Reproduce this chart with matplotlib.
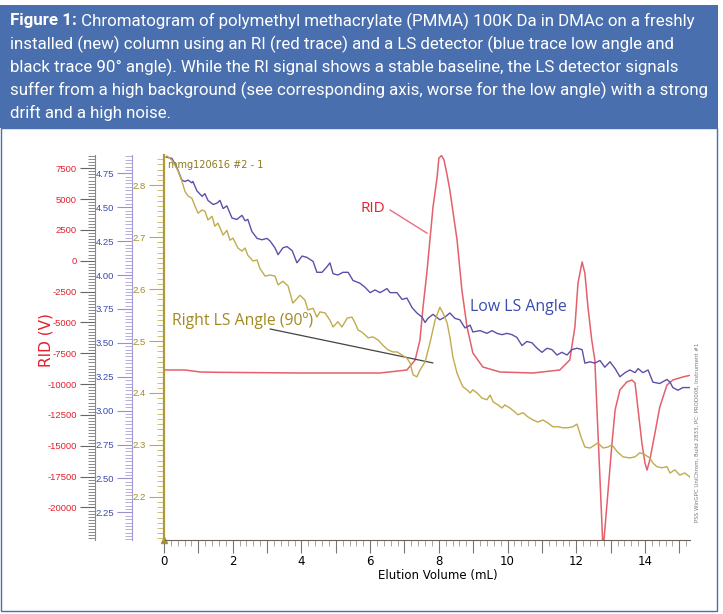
import matplotlib
matplotlib.use('Agg')
import matplotlib.pyplot as plt
import matplotlib.ticker as mticker
from matplotlib.patches import Rectangle
from matplotlib import font_manager

# ---- values ----
# RI detector (red trace)
rid_vol = [0.0, 0.61, 1.05, 1.63, 3.96, 6.29, 7.07, 7.31, 7.45, 7.54,
           7.65, 7.74, 7.83, 7.95, 8.00, 8.08, 8.15, 8.24, 8.32, 8.53,
           8.67, 8.82, 8.99, 9.28, 9.78, 10.74, 11.52, 11.81, 11.96, 12.05,
           12.17, 12.25, 12.34, 12.45, 12.54, 12.78, 12.92, 13.04, 13.13, 13.27,
           13.47, 13.62, 13.71, 13.80, 13.91, 14.00, 14.06, 14.14, 14.29, 14.43,
           14.64, 14.81, 15.10, 15.35]
rid_sig = [-8860, -8860, -9022, -9050, -9103, -9103, -8860, -8049, -6428, -3753,
           -997, 1678, 4353, 6770, 8320, 8520, 8163, 6950, 5731, 1678,
           -2375, -5375, -7482, -8617, -9022, -9103, -8860, -8049, -5375, -1808,
           -105, -997, -3753, -6428, -8049, -23500, -18830, -14780, -12100, -10480,
           -9830, -9670, -9914, -12100, -14780, -16400, -16970, -16160, -13970, -11860,
           -10080, -9670, -9427, -9265]

# low angle LS (blue trace)
low_vol = [0.06, 0.23, 0.38, 0.52, 0.61, 0.70, 0.81, 0.84, 0.96, 1.11,
           1.19, 1.28, 1.43, 1.54, 1.63, 1.72, 1.83, 1.98, 2.12, 2.27,
           2.36, 2.44, 2.56, 2.71, 2.85, 3.00, 3.09, 3.23, 3.32, 3.46,
           3.58, 3.73, 3.87, 4.02, 4.16, 4.34, 4.45, 4.60, 4.74, 4.83,
           4.92, 5.06, 5.21, 5.36, 5.50, 5.70, 5.85, 6.00, 6.14, 6.29,
           6.49, 6.58, 6.78, 6.93, 7.07, 7.22, 7.36, 7.51, 7.60, 7.68,
           7.83, 8.03, 8.18, 8.32, 8.47, 8.61, 8.76, 8.91, 8.99, 9.20,
           9.40, 9.55, 9.69, 9.84, 9.98, 10.13, 10.27, 10.42, 10.56, 10.71,
           10.86, 11.00, 11.15, 11.29, 11.44, 11.58, 11.73, 11.87, 12.02, 12.17,
           12.25, 12.40, 12.54, 12.69, 12.83, 12.98, 13.13, 13.27, 13.42, 13.56,
           13.71, 13.80, 13.94, 14.09, 14.23, 14.43, 14.64, 14.73, 14.81, 14.96,
           15.10, 15.30]
low_sig = [4.87, 4.86, 4.79, 4.70, 4.69, 4.70, 4.68, 4.69, 4.62, 4.58,
           4.60, 4.55, 4.52, 4.53, 4.55, 4.49, 4.51, 4.42, 4.41, 4.44,
           4.40, 4.41, 4.32, 4.27, 4.26, 4.27, 4.25, 4.20, 4.15, 4.20,
           4.21, 4.18, 4.09, 4.14, 4.13, 4.10, 4.02, 4.02, 4.06, 4.09,
           4.01, 4.00, 4.02, 4.02, 3.96, 3.94, 3.91, 3.87, 3.89, 3.87,
           3.90, 3.87, 3.87, 3.82, 3.83, 3.76, 3.72, 3.69, 3.65, 3.68,
           3.71, 3.67, 3.69, 3.72, 3.68, 3.67, 3.61, 3.63, 3.58, 3.59,
           3.57, 3.59, 3.57, 3.56, 3.57, 3.56, 3.54, 3.48, 3.51, 3.50,
           3.46, 3.43, 3.46, 3.45, 3.41, 3.43, 3.41, 3.45, 3.46, 3.45,
           3.35, 3.36, 3.35, 3.37, 3.32, 3.36, 3.31, 3.25, 3.28, 3.30,
           3.28, 3.31, 3.28, 3.30, 3.21, 3.20, 3.23, 3.21, 3.17, 3.15,
           3.17, 3.17]

# right angle (90 deg) LS (gold trace)
right_vol = [0.09, 0.23, 0.32, 0.41, 0.52, 0.61, 0.70, 0.81, 0.90, 0.99,
             1.11, 1.19, 1.28, 1.40, 1.48, 1.57, 1.72, 1.83, 1.92, 2.01,
             2.15, 2.27, 2.36, 2.44, 2.59, 2.71, 2.79, 2.94, 3.09, 3.23,
             3.32, 3.46, 3.61, 3.75, 3.96, 4.10, 4.19, 4.34, 4.45, 4.54,
             4.69, 4.83, 4.92, 5.06, 5.18, 5.33, 5.47, 5.56, 5.65, 5.76,
             5.85, 5.94, 6.08, 6.23, 6.37, 6.52, 6.66, 6.78, 6.93, 7.07,
             7.16, 7.25, 7.36, 7.45, 7.60, 7.74, 7.89, 8.03, 8.12, 8.24,
             8.32, 8.41, 8.53, 8.61, 8.70, 8.82, 8.91, 8.99, 9.11, 9.26,
             9.40, 9.49, 9.58, 9.72, 9.84, 9.92, 10.07, 10.22, 10.30, 10.45,
             10.59, 10.74, 10.88, 11.03, 11.18, 11.32, 11.47, 11.61, 11.76, 11.90,
             12.02, 12.14, 12.25, 12.40, 12.54, 12.63, 12.78, 12.92, 13.04, 13.19,
             13.36, 13.56, 13.71, 13.85, 14.00, 14.14, 14.23, 14.35, 14.49, 14.64,
             14.73, 14.87, 15.01, 15.16, 15.31]
right_sig = [2.856, 2.848, 2.838, 2.827, 2.808, 2.788, 2.779, 2.775, 2.760, 2.746,
             2.752, 2.750, 2.733, 2.740, 2.721, 2.727, 2.704, 2.713, 2.694, 2.698,
             2.679, 2.673, 2.679, 2.665, 2.654, 2.656, 2.640, 2.625, 2.627, 2.625,
             2.608, 2.615, 2.606, 2.573, 2.588, 2.579, 2.560, 2.563, 2.546, 2.556,
             2.554, 2.540, 2.527, 2.537, 2.527, 2.544, 2.546, 2.535, 2.521, 2.517,
             2.512, 2.506, 2.508, 2.502, 2.492, 2.483, 2.479, 2.479, 2.473, 2.467,
             2.458, 2.435, 2.431, 2.444, 2.460, 2.496, 2.540, 2.565, 2.554, 2.535,
             2.508, 2.469, 2.438, 2.425, 2.412, 2.406, 2.400, 2.406, 2.400, 2.390,
             2.387, 2.396, 2.383, 2.377, 2.371, 2.377, 2.371, 2.363, 2.358, 2.362,
             2.354, 2.348, 2.344, 2.348, 2.342, 2.335, 2.335, 2.333, 2.333, 2.335,
             2.340, 2.315, 2.296, 2.294, 2.300, 2.304, 2.294, 2.296, 2.300, 2.287,
             2.277, 2.275, 2.277, 2.285, 2.281, 2.275, 2.265, 2.258, 2.256, 2.258,
             2.246, 2.252, 2.242, 2.246, 2.238]

x_ticks = list(range(0, 16))
rid_ticks = [7500, 5000, 2500, 0, -2500, -5000, -7500, -10000, -12500, -15000, -17500, -20000]
low_ticks = [4.75, 4.50, 4.25, 4.00, 3.75, 3.50, 3.25, 3.00, 2.75, 2.50, 2.25]
right_ticks = [2.8, 2.7, 2.6, 2.5, 2.4, 2.3, 2.2]

caption = ['installed (new) column using an RI (red trace) and a LS detector (blue trace low angle and',
           'black trace 90\u00b0 angle). While the RI signal shows a stable baseline, the LS detector signals',
           'suffer from a high background (see corresponding axis, worse for the low angle) with a strong',
           'drift and a high noise.']

# ---- colours ----
HEAD = '#4a6fae'
RED = '#e4606b'
REDTXT = '#e3202c'
BLUE = '#5d4fa8'
BLUETXT = '#3a4cb0'
GOLD = '#c2ab4a'
GOLDTXT = '#a08a22'

W, H = 723, 614
fig = plt.figure(figsize=(W / 100, H / 100), dpi=100)
rend = fig.canvas.get_renderer()


def fx(px):
    return px / W


def fy(py):
    return 1 - py / H


names = {f.name for f in font_manager.fontManager.ttflist}
head_font = 'Liberation Sans Narrow' if 'Liberation Sans Narrow' in names else 'Roboto'
ann_font = 'Open Sans' if 'Open Sans' in names else 'DejaVu Sans'

# header band + panel frame
fig.patches.append(Rectangle((0, fy(128)), fx(718), fy(5) - fy(128), transform=fig.transFigure,
                             facecolor=HEAD, edgecolor='none', zorder=0))
fig.patches.append(Rectangle((fx(1), fy(611)), fx(717) - fx(1), fy(128) - fy(611),
                             transform=fig.transFigure, facecolor='none', edgecolor=HEAD, lw=1))

# caption text, size fitted so the widest line stays inside the band
t_b = fig.text(fx(10), fy(21), 'Figure 1:', color='white', fontweight='bold', fontsize=13,
               family=head_font, va='center')
t_r = fig.text(fx(10), fy(21), ' Chromatogram of polymethyl methacrylate (PMMA) 100K Da in DMAc on a freshly',
               color='white', fontsize=13, family=head_font, va='center')
rest = [fig.text(fx(10), fy(44 + 23 * i), line, color='white', fontsize=13, family=head_font, va='center')
        for i, line in enumerate(caption)]
w1 = t_b.get_window_extent(rend).width + t_r.get_window_extent(rend).width
wmax = max(t.get_window_extent(rend).width for t in rest)
fs = 13 * min(695 / w1, 700 / wmax)
for t in [t_b, t_r] + rest:
    t.set_fontsize(fs)
t_r.set_x(fx(10 + t_b.get_window_extent(rend).width))

# ---- axes ----
ax = fig.add_axes([fx(164), fy(540), fx(690) - fx(164), fy(155) - fy(540)])
ax2 = ax.twinx()
ax3 = ax.twinx()

ax.plot(rid_vol, rid_sig, color=RED, lw=1.1)
ax2.plot(low_vol, low_sig, color=BLUE, lw=1.0)
ax3.plot(right_vol, right_sig, color=GOLD, lw=1.0)

ax.set_xlim(0, 15.31)
ax.set_ylim(-22641, 8568)
ax2.set_ylim(2.046, 4.885)
ax3.set_ylim(2.117, 2.858)

for a in (ax, ax2, ax3):
    for s in ('top', 'right'):
        a.spines[s].set_visible(False)
for a in (ax2, ax3):
    a.spines['bottom'].set_visible(False)
    a.yaxis.tick_left()
    a.yaxis.set_label_position('left')

ax.spines['left'].set_position(('outward', 69 * 0.72))
ax2.spines['left'].set_position(('outward', 32 * 0.72))
ax.spines['left'].set_color('#8a8a8a')
ax2.spines['left'].set_color('#a39bd3')
ax3.spines['left'].set_color('#ae9838')
ax3.spines['left'].set_linewidth(1.6)
ax.spines['bottom'].set_color('#6e6258')

# x axis
ax.set_xticks(x_ticks)
ax.set_xticklabels([str(v) if v % 2 == 0 else '' for v in x_ticks])
ax.xaxis.set_minor_locator(mticker.MultipleLocator(0.2))
ax.tick_params(axis='x', which='major', length=9, width=0.8, color='#777777', labelsize=8.5, pad=2)
ax.tick_params(axis='x', which='minor', length=4, width=0.6, color='#999999')
ax.set_xlabel('Elution Volume (mL)', fontsize=8.5, labelpad=4)
ax.xaxis.set_label_coords((438 - 164) / 526, -0.075)

# RID axis
ax.set_yticks(rid_ticks)
ax.set_yticklabels([str(v) for v in rid_ticks])
ax.yaxis.set_minor_locator(mticker.MultipleLocator(250))
ax.tick_params(axis='y', which='major', length=11, width=0.8, color='#666666',
               labelcolor=REDTXT, labelsize=6.8, pad=2)
ax.tick_params(axis='y', which='minor', length=5, width=0.6, color='#777777')

# low angle axis
ax2.set_yticks(low_ticks)
ax2.set_yticklabels(['%.2f' % v for v in low_ticks])
ax2.yaxis.set_minor_locator(mticker.MultipleLocator(0.025))
ax2.tick_params(axis='y', which='major', length=11, width=0.8, color='#9a90cc',
                labelcolor=BLUETXT, labelsize=6.8, pad=2)
ax2.tick_params(axis='y', which='minor', length=5, width=0.6, color='#a9a0d6')

# right angle axis
ax3.set_yticks(right_ticks)
ax3.set_yticklabels(['%.1f' % v for v in right_ticks])
ax3.yaxis.set_minor_locator(mticker.MultipleLocator(0.01))
ax3.tick_params(axis='y', which='major', length=11, width=0.8, color='#c0aa50',
                labelcolor=GOLDTXT, labelsize=6.8, pad=2)
ax3.tick_params(axis='y', which='minor', length=5, width=0.6, color='#c8b462')

for a in (ax, ax2, ax3):
    for lab in a.get_yticklabels():
        lab.set_family('Liberation Sans')

fig.text(fx(46), fy(340), 'RID (V)', rotation=90, color=REDTXT, fontsize=11, ha='center', va='center')

# origin arrow
ax.plot([0], [0], marker='^', color='#a8922e', markersize=5, transform=ax.transAxes, clip_on=False)

# annotations
ax.text(0.008, 0.974, 'mmg120616 #2 - 1', transform=ax.transAxes, color='#8c7a20', fontsize=7, va='center')
ax.text(0.397, 0.862, 'RID', transform=ax.transAxes, color=REDTXT, fontsize=11, ha='center', va='center',
        family=ann_font)
ax.plot([0.430, 0.500], [0.857, 0.797], transform=ax.transAxes, color='#e57080', lw=1)
t_low = ax.text(0.581, 0.605, 'Low LS Angle', transform=ax.transAxes, color=BLUETXT, fontsize=11,
                va='center', family=ann_font)
t_low.set_fontsize(11 * 97 / t_low.get_window_extent(rend).width)
t_right = ax.text(0.015, 0.569, 'Right LS Angle (90\u00ba)', transform=ax.transAxes, color=GOLDTXT,
                  fontsize=12, va='center', family=ann_font)
t_right.set_fontsize(12 * 141 / t_right.get_window_extent(rend).width)
ax.plot([0.202, 0.511], [0.548, 0.460], transform=ax.transAxes, color='#444444', lw=0.9)

fig.text(fx(697), fy(432), 'PSS WinGPC UniChrom, Build 2833, PC: PROD008, Instrument #1', rotation=90,
         color='#777777', fontsize=4, ha='center', va='center')

fig.savefig('out.png', dpi=100)
